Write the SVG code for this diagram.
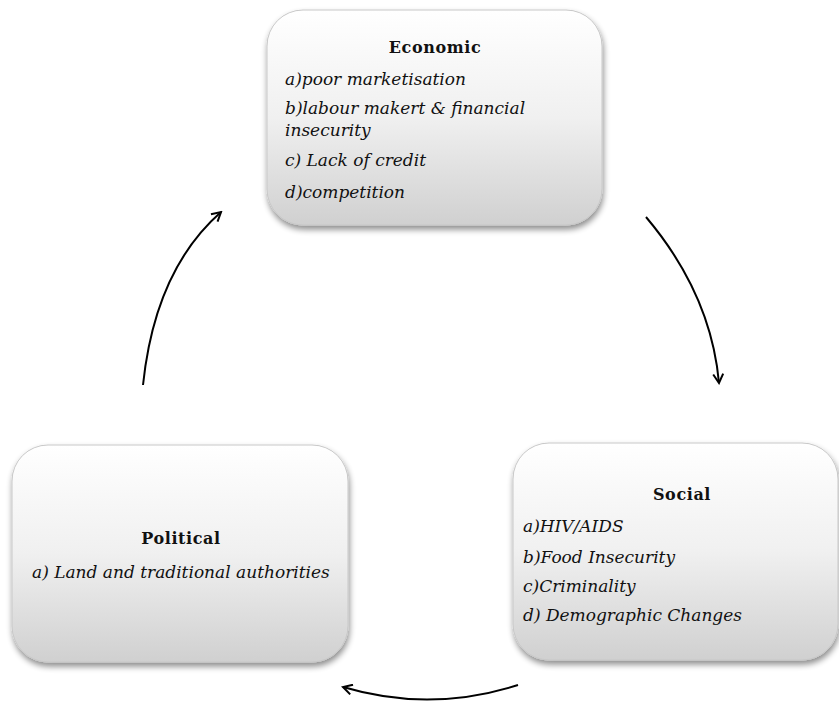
<svg xmlns="http://www.w3.org/2000/svg" width="839" height="702" viewBox="0 0 839 702">
<style>
.box{fill:url(#g);stroke:#c8c8c8;stroke-width:1;filter:url(#sh)}
.h{font-family:"DejaVu Serif","Liberation Serif",serif;font-weight:bold;font-size:16px;letter-spacing:0.6px;fill:#111;text-anchor:middle}
.t{font-family:"DejaVu Serif","Liberation Serif",serif;font-style:italic;font-size:17px;fill:#111}
.c{fill:none;stroke:#000;stroke-width:2}
</style>
<defs>
<linearGradient id="g" x1="0" y1="0" x2="0" y2="1">
<stop offset="0" stop-color="#ffffff"/>
<stop offset="0.5" stop-color="#f0f0f0"/>
<stop offset="1" stop-color="#d0d0d0"/>
</linearGradient>
<filter id="sh" x="-10%" y="-10%" width="125%" height="130%">
<feGaussianBlur in="SourceAlpha" stdDeviation="3"/>
<feOffset dx="1" dy="4" result="b"/>
<feComponentTransfer><feFuncA type="linear" slope="0.45"/></feComponentTransfer>
<feMerge><feMergeNode/><feMergeNode in="SourceGraphic"/></feMerge>
</filter>
<marker id="ah" viewBox="0 0 12 12" refX="10" refY="6" markerWidth="12" markerHeight="12" markerUnits="userSpaceOnUse" orient="auto">
<path d="M1,1 L10,6 L1,11" fill="none" stroke="#000" stroke-width="2"/>
</marker>
</defs>
<rect width="839" height="702" fill="#fff"/>
<g id="economic">
<rect class="box" x="267" y="10" width="335" height="215" rx="36"/>
<text class="h" x="435" y="53">Economic</text>
<text class="t" x="285" y="85">a)poor marketisation</text>
<text class="t" x="285" y="114">b)labour makert &amp; financial</text>
<text class="t" x="285" y="136">insecurity</text>
<text class="t" x="285" y="166">c) Lack of credit</text>
<text class="t" x="285" y="198">d)competition</text>
</g>
<g id="social">
<rect class="box" x="513" y="443" width="325" height="217" rx="36"/>
<text class="h" x="682" y="500">Social</text>
<text class="t" x="523" y="532">a)HIV/AIDS</text>
<text class="t" x="523" y="563">b)Food Insecurity</text>
<text class="t" x="523" y="592">c)Criminality</text>
<text class="t" x="523" y="621">d) Demographic Changes</text>
</g>
<g id="political">
<rect class="box" x="12" y="445" width="336" height="217" rx="36"/>
<text class="h" x="181" y="544">Political</text>
<text class="t" x="32" y="578">a) Land and traditional authorities</text>
</g>
<g id="connectors">
<path class="c" d="M646,217 Q711,294 719,383" marker-end="url(#ah)"/>
<path class="c" d="M518,685 Q430,713 343,687" marker-end="url(#ah)"/>
<path class="c" d="M143,385 Q155,270 221,212" marker-end="url(#ah)"/>
</g>
</svg>
